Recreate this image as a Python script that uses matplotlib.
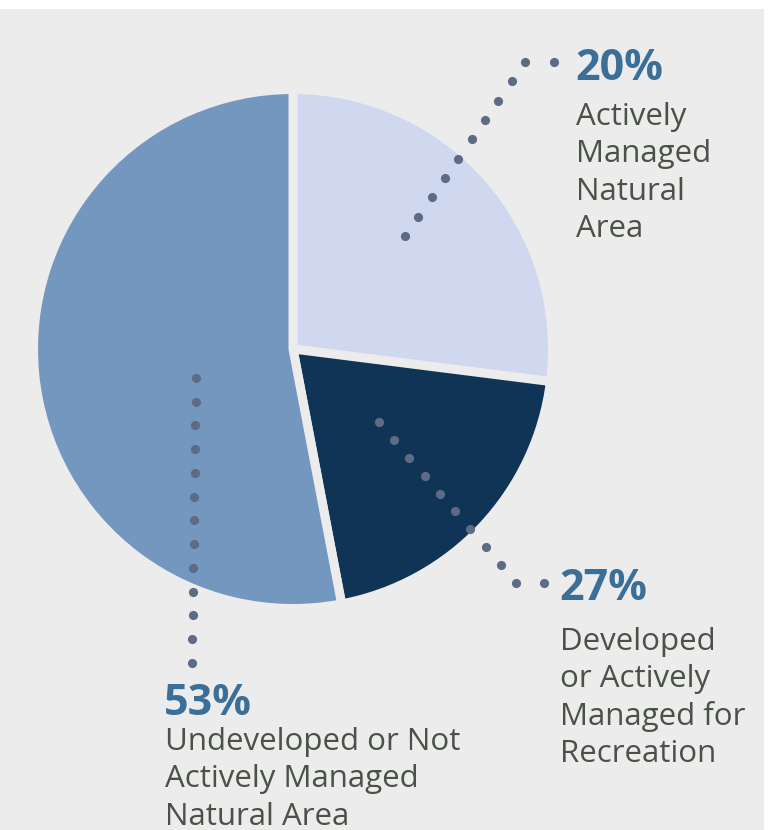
import matplotlib
matplotlib.use("Agg")
import matplotlib.pyplot as plt
import numpy as np
from matplotlib.patches import Rectangle

# wedge shares as drawn (clockwise from 12 o'clock)
shares = [27, 20, 53]
colors = ["#d0d8f0", "#0f3456", "#7497bf"]

# callout text
pct_labels = ["20%", "27%", "53%"]
desc_labels = [
    ["Actively", "Managed", "Natural", "Area"],
    ["Developed", "or Actively", "Managed for", "Recreation"],
    ["Undeveloped or Not", "Actively Managed", "Natural Area"],
]

BG = "#ececec"
PCT_COLOR = "#3b6f97"
TEXT_COLOR = "#4a5146"
DOT_COLOR = "#5e6b86"
FONT = "Open Sans"

W, H = 784, 830
PX = 255.0            # pixels per pie unit
CX, CY = 293, 349     # pie centre in pixels (y down)

fig = plt.figure(figsize=(W / 100, H / 100), dpi=100, facecolor="white")
fig.patches.append(Rectangle((0, 0), 764 / W, (H - 9) / H, transform=fig.transFigure,
                             facecolor=BG, edgecolor="none", zorder=-10))

ax = fig.add_axes([0, 0, 1, 1])
ax.patch.set_visible(False)

gap = 9  # px between wedges
ax.pie(shares, colors=colors, startangle=90, counterclock=False,
       radius=1 + gap / 2 / PX, center=(0, 0), frame=True,
       wedgeprops=dict(edgecolor=BG, linewidth=gap * 0.72, joinstyle="miter"))
ax.set_xlim(-CX / PX, (W - CX) / PX)
ax.set_ylim((CY - H) / PX, CY / PX)
ax.set_aspect("equal")
ax.axis("off")


def px(x, y):
    return (x - CX) / PX, (CY - y) / PX


# dotted leader lines (pixel layout -> pie units), one dot roughly every 24 px
leaders = [
    [(405, 236), (525, 62), (554, 62)],
    [(379, 422), (516, 583), (544, 583)],
    [(196, 378), (192, 663)],
]
for path in leaders:
    dots = []
    for (x0, y0), (x1, y1) in zip(path[:-1], path[1:]):
        n = max(1, int(round(np.hypot(x1 - x0, y1 - y0) / 24)))
        t = np.linspace(0, 1, n + 1)
        seg = [(x0 + (x1 - x0) * s, y0 + (y1 - y0) * s) for s in t]
        dots.extend(seg if not dots else seg[1:])
    xs, ys = zip(*[px(x, y) for x, y in dots])
    ax.plot(xs, ys, linestyle="none", marker="o", markersize=6.6,
            markerfacecolor=DOT_COLOR, markeredgecolor="none", zorder=5)

# text blocks: (x, baseline of percent, baseline of first description line)
blocks = [(577, 80, 125), (561, 600, 650), (166, 715, 750)]
line_step = 37.3
for (x, yp, yd), pct, lines in zip(blocks, pct_labels, desc_labels):
    tx, ty = px(x - 2, yp)
    ax.text(tx, ty, pct, fontsize=31, fontweight="bold", color=PCT_COLOR,
            family=FONT, va="baseline", ha="left")
    for i, line in enumerate(lines):
        tx, ty = px(x - 1, yd + i * line_step)
        ax.text(tx, ty, line, fontsize=22.5, color=TEXT_COLOR,
                family=FONT, va="baseline", ha="left")

fig.savefig("out.png", dpi=100, facecolor=fig.get_facecolor())
